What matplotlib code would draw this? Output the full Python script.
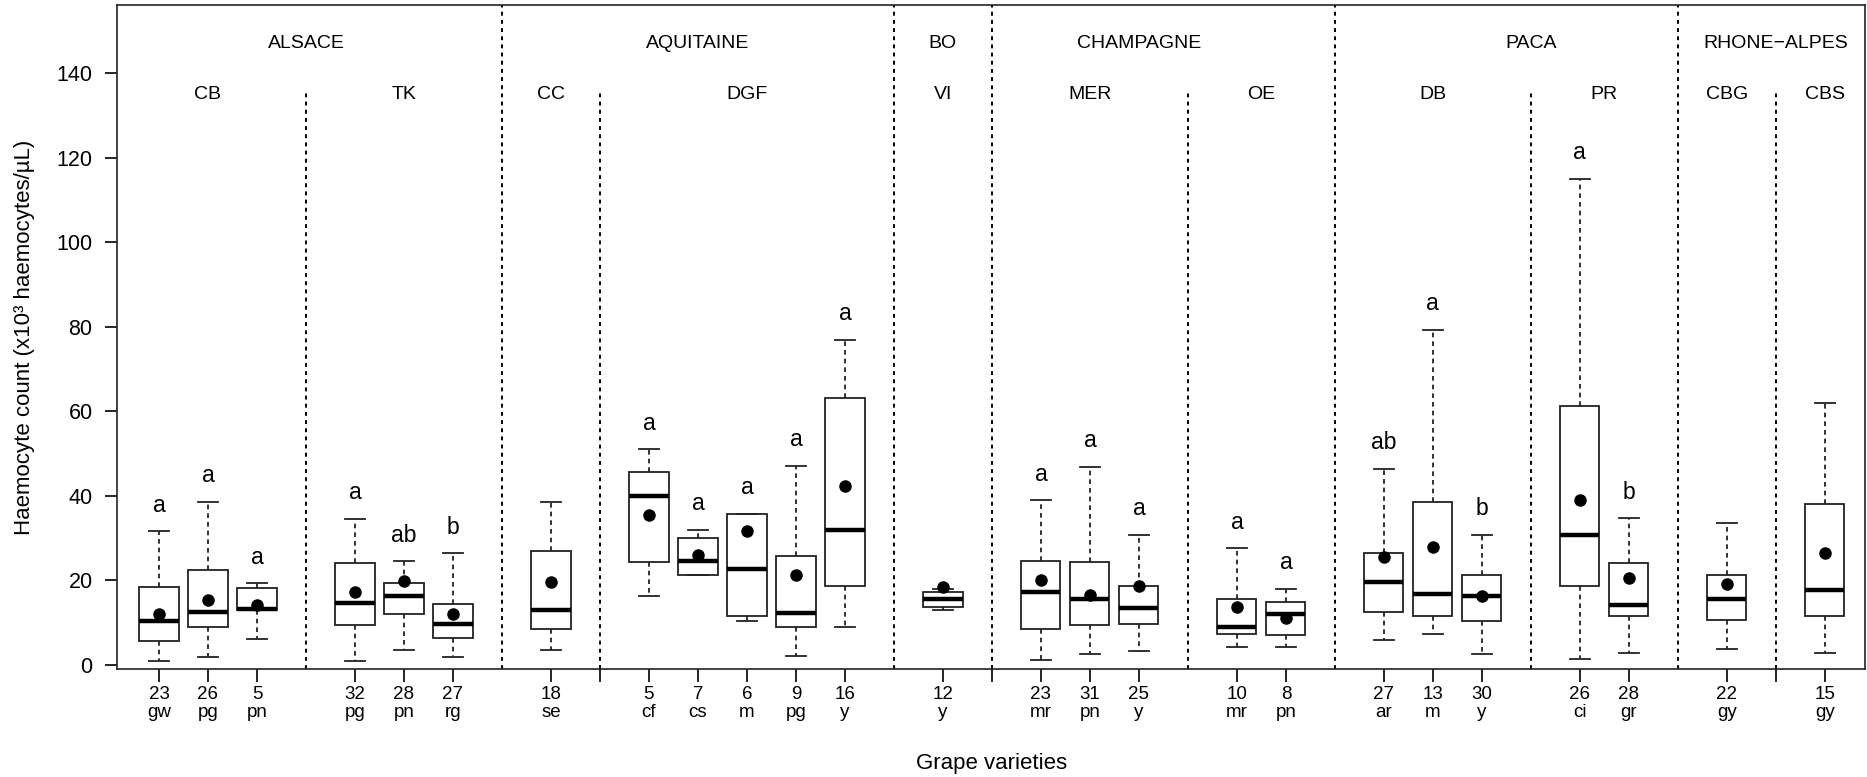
import matplotlib
matplotlib.use("Agg")
import matplotlib.pyplot as plt

plt.rcParams['font.family'] = ['Liberation Sans', 'DejaVu Sans']

# values (x10^3 haemocytes/uL)
regions = ["ALSACE", "AQUITAINE", "BO", "CHAMPAGNE", "PACA", "RHONE\u2212ALPES"]
region_pos = [4, 12, 17, 21, 29, 34]
sites = ["CB", "TK", "CC", "DGF", "VI", "MER", "OE", "DB", "PR", "CBG", "CBS"]
site_pos = [2, 6, 9, 13, 17, 20, 23.5, 27, 30.5, 33, 35]
region_breaks = [8, 16, 18, 25, 32]
site_breaks = [4, 10, 22, 29, 34]
empty_ticks = [10, 18, 34]

positions = [1, 2, 3, 5, 6, 7, 9, 11, 12, 13, 14, 15, 17, 19, 20, 21, 23, 24,
             26, 27, 28, 30, 31, 33, 35]
n_obs = [23, 26, 5, 32, 28, 27, 18, 5, 7, 6, 9, 16, 12, 23, 31, 25, 10, 8,
         27, 13, 30, 26, 28, 22, 15]
varieties = ["gw", "pg", "pn", "pg", "pn", "rg", "se", "cf", "cs", "m", "pg", "y",
             "y", "mr", "pn", "y", "mr", "pn", "ar", "m", "y", "ci", "gr", "gy", "gy"]
whislo = [0.9, 1.8, 6.2, 0.9, 3.6, 2.0, 3.6, 16.4, 21.2, 10.3, 2.1, 9.1, 13.0,
          1.2, 2.5, 3.3, 4.2, 4.2, 6.0, 7.4, 2.5, 1.5, 2.9, 3.9, 2.9]
q1 = [5.6, 9.1, 12.9, 9.5, 12.1, 6.4, 8.5, 24.3, 21.4, 11.5, 9.1, 18.7, 13.8,
      8.5, 9.5, 9.7, 7.4, 7.0, 12.6, 11.5, 10.3, 18.8, 11.5, 10.7, 11.5]
med = [10.3, 12.6, 13.2, 14.6, 16.4, 9.7, 13.0, 40.1, 24.6, 22.6, 12.4, 32.0, 15.6,
       17.3, 15.6, 13.6, 8.9, 12.1, 19.7, 16.7, 16.4, 30.7, 14.2, 15.6, 17.7]
q3 = [18.5, 22.4, 18.3, 24.1, 19.3, 14.4, 26.9, 45.7, 30.1, 35.8, 25.9, 63.2, 17.3,
      24.7, 24.3, 18.7, 15.6, 15.0, 26.5, 38.6, 21.4, 61.2, 24.1, 21.4, 38.0]
whishi = [31.7, 38.6, 19.4, 34.6, 24.5, 26.5, 38.6, 51.0, 32.0, 35.8, 47.2, 77.0, 17.9,
          39.0, 46.9, 30.8, 27.7, 18.0, 46.4, 79.4, 30.8, 115.1, 34.8, 33.7, 62.0]
means = [12.1, 15.3, 14.2, 17.3, 19.9, 12.1, 19.7, 35.5, 26.1, 31.6, 21.4, 42.3, 18.5,
         20.0, 16.5, 18.7, 13.8, 11.1, 25.5, 27.9, 16.4, 39.0, 20.7, 19.1, 26.5]
letters = ["a", "a", "a", "a", "ab", "b", "", "a", "a", "a", "a", "a", "",
           "a", "a", "a", "a", "a", "ab", "a", "b", "a", "b", "", ""]

stats = []
for i in range(len(positions)):
    stats.append(dict(whislo=whislo[i], q1=q1[i], med=med[i], q3=q3[i],
                      whishi=whishi[i], mean=means[i], fliers=[]))

W, H = 1867, 777
fig = plt.figure(figsize=(W / 100, H / 100), dpi=100)
# plot frame: x 117..1865 px, y 5..669 px from top
ax = fig.add_axes([117 / W, 1 - 669 / H, 1748 / W, 664 / H])

ylo, yhi = -0.95, 156.2
div_dash = (0, (2.0, 2.2))
whisk_dash = (0, (2.6, 2.2))

for x in region_breaks:
    ax.plot([x, x], [ylo, yhi], color='black', lw=1.4, ls=div_dash)
for x in site_breaks:
    ax.plot([x, x], [ylo, 136.1], color='black', lw=1.4, ls=div_dash)

ax.bxp(stats, positions=positions, widths=0.8, capwidths=0.4, showmeans=True,
       patch_artist=True, manage_ticks=False,
       boxprops=dict(facecolor='white', edgecolor='#222222', linewidth=1.3),
       medianprops=dict(color='black', linewidth=3.2),
       whiskerprops=dict(color='#222222', linewidth=1.3, linestyle=whisk_dash),
       capprops=dict(color='#222222', linewidth=1.3),
       meanprops=dict(marker='o', markerfacecolor='black', markeredgecolor='black',
                      markersize=8))

for x, top, lab in zip(positions, whishi, letters):
    if lab:
        ax.text(x, top + 4.6, lab, ha='center', va='baseline', fontsize=16.5)

for x, lab in zip(region_pos, regions):
    ax.text(x, 147.2, lab, ha='center', va='center', fontsize=14)
for x, lab in zip(site_pos, sites):
    ax.text(x, 134.9, lab, ha='center', va='center', fontsize=14)

ax.set_xlim(0.143, 35.82)
ax.set_ylim(ylo, yhi)
ax.set_yticks(range(0, 141, 20))
ax.set_xticks(positions, labels=[str(n) for n in n_obs])
ax.set_xticks(empty_ticks, minor=True)
ax.tick_params(axis='y', direction='out', length=8.6, width=1.2, labelsize=15.5, pad=9)
ax.tick_params(axis='x', which='both', direction='out', length=9, width=1.2,
               labelsize=13.5, pad=3)
for s in ax.spines.values():
    s.set_linewidth(1.2)
    s.set_color('#222222')

# second row of x labels: grape variety codes
xrow = ax.get_xaxis_transform()
for x, v in zip(positions, varieties):
    ax.text(x, -0.0718, v, transform=xrow, ha='center', va='baseline', fontsize=13.5)

fig.text(25 / W, 1 - 337 / H, "Haemocyte count (x10\u00b3 haemocytes/\u00b5L)",
         rotation=90, ha='center', va='center', fontsize=16)
fig.text(992 / W, 1 - 763 / H, "Grape varieties", ha='center', va='center',
         fontsize=16)

fig.savefig("out.png", dpi=100)
